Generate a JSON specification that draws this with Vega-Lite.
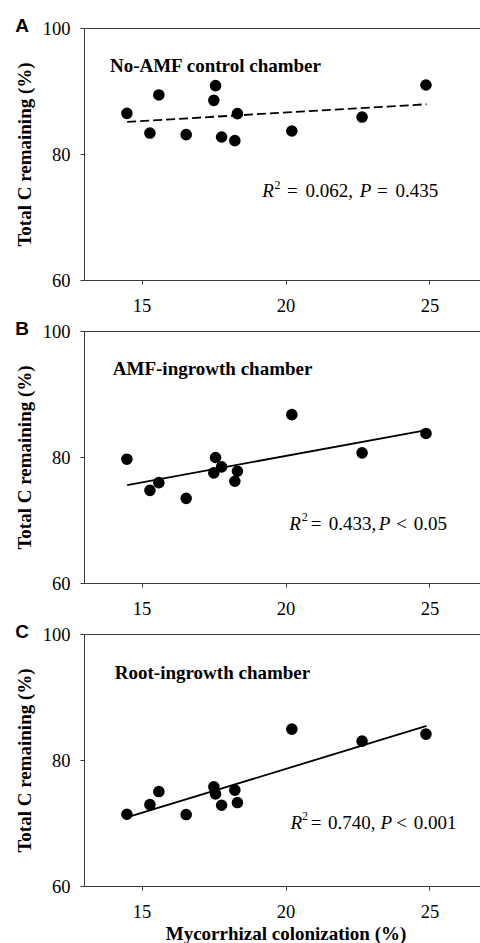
{
  "$schema": "https://vega.github.io/schema/vega-lite/v6.json",
  "padding": {"left": 14, "top": 16, "right": 0, "bottom": 0},
  "bounds": "flush",
  "spacing": 51,
  "datasets": {
    "points": [
      {"panel": "A", "col": 14.49, "tc": 86.45}, {"panel": "A", "col": 15.29, "tc": 83.33}, {"panel": "A", "col": 15.60, "tc": 89.37},
      {"panel": "A", "col": 16.55, "tc": 83.07}, {"panel": "A", "col": 17.51, "tc": 88.52}, {"panel": "A", "col": 17.57, "tc": 90.85},
      {"panel": "A", "col": 17.78, "tc": 82.70}, {"panel": "A", "col": 18.24, "tc": 82.12}, {"panel": "A", "col": 18.33, "tc": 86.40},
      {"panel": "A", "col": 20.22, "tc": 83.65}, {"panel": "A", "col": 22.66, "tc": 85.87}, {"panel": "A", "col": 24.88, "tc": 90.95},
      {"panel": "B", "col": 14.49, "tc": 79.65}, {"panel": "B", "col": 15.29, "tc": 74.71}, {"panel": "B", "col": 15.60, "tc": 75.94},
      {"panel": "B", "col": 16.55, "tc": 73.44}, {"panel": "B", "col": 17.51, "tc": 77.48}, {"panel": "B", "col": 17.57, "tc": 79.92},
      {"panel": "B", "col": 17.78, "tc": 78.43}, {"panel": "B", "col": 18.24, "tc": 76.15}, {"panel": "B", "col": 18.33, "tc": 77.74},
      {"panel": "B", "col": 20.22, "tc": 86.72}, {"panel": "B", "col": 22.66, "tc": 80.66}, {"panel": "B", "col": 24.88, "tc": 83.74},
      {"panel": "C", "col": 14.49, "tc": 71.39}, {"panel": "C", "col": 15.29, "tc": 72.93}, {"panel": "C", "col": 15.60, "tc": 74.99},
      {"panel": "C", "col": 16.55, "tc": 71.34}, {"panel": "C", "col": 17.51, "tc": 75.74}, {"panel": "C", "col": 17.57, "tc": 74.62},
      {"panel": "C", "col": 17.78, "tc": 72.82}, {"panel": "C", "col": 18.24, "tc": 75.21}, {"panel": "C", "col": 18.33, "tc": 73.25},
      {"panel": "C", "col": 20.22, "tc": 84.90}, {"panel": "C", "col": 22.66, "tc": 82.99}, {"panel": "C", "col": 24.88, "tc": 84.11}
    ],
    "fits": [
      {"panel": "A", "col": 14.5, "tc": 85.1}, {"panel": "A", "col": 24.9, "tc": 87.9},
      {"panel": "B", "col": 14.5, "tc": 75.55}, {"panel": "B", "col": 24.9, "tc": 84.27},
      {"panel": "C", "col": 14.6, "tc": 71.05}, {"panel": "C", "col": 24.9, "tc": 85.4}
    ]
  },
  "config": {
    "font": "Liberation Serif",
    "view": {"stroke": "#3a3a3a", "strokeWidth": 1},
    "style": {
      "guide-label": {"font": "Liberation Serif", "fontSize": 18.5, "fill": "#000"},
      "guide-title": {"font": "Liberation Serif", "fontSize": 19, "fontWeight": "bold", "fill": "#000"},
      "ann": {"font": "Liberation Serif", "fontSize": 19, "color": "#000", "align": "left", "baseline": "alphabetic"}
    },
    "axis": {
      "grid": false, "domainColor": "#3a3a3a", "tickColor": "#3a3a3a", "tickSize": 4,
      "labelFont": "Liberation Serif", "labelFontSize": 18.5, "labelColor": "#000",
      "titleFont": "Liberation Serif", "titleFontSize": 19, "titleFontWeight": "bold", "titleColor": "#000"
    },
    "axisX": {"labelPadding": 12, "titlePadding": 4},
    "axisY": {"labelPadding": 10, "titlePadding": 8},
    "title": {"font": "Liberation Sans", "fontSize": 19, "fontWeight": "bold", "anchor": "start", "frame": "bounds", "color": "#000", "offset": -17}
  },
  "vconcat": [
    {
      "title": "A",
      "width": 403, "height": 252,
      "layer": [
        {
          "data": {"name": "points"},
          "transform": [{"filter": "datum.panel === 'A'"}],
          "mark": {"type": "point", "filled": true, "color": "#000", "size": 135, "opacity": 1},
          "encoding": {
            "x": {"field": "col", "type": "quantitative", "scale": {"domain": [13, 27], "nice": false}, "axis": {"values": [15, 20, 25], "title": null, "labelFont": "Liberation Serif"}},
            "y": {"field": "tc", "type": "quantitative", "scale": {"domain": [60, 100], "nice": false, "zero": false}, "axis": {"values": [60, 80, 100], "title": "Total C remaining (%)", "labelFont": "Liberation Serif"}}
          }
        },
        {
          "data": {"name": "fits"},
          "transform": [{"filter": "datum.panel === 'A'"}],
          "mark": {"type": "line", "color": "#000", "strokeWidth": 1.8, "strokeDash": [9, 4]},
          "encoding": {"x": {"field": "col", "type": "quantitative"}, "y": {"field": "tc", "type": "quantitative"}}
        },
        {"data": {"values": [{}]}, "mark": {"type": "text", "style": "ann", "text": "No-AMF control chamber", "fontWeight": "bold"},
         "encoding": {"x": {"datum": 13.9, "type": "quantitative"}, "y": {"datum": 93, "type": "quantitative"}}},
        {"data": {"values": [{}]}, "mark": {"type": "text", "style": "ann", "text": "R", "fontStyle": "italic"},
         "encoding": {"x": {"datum": 19.188, "type": "quantitative"}, "y": {"datum": 73.1, "type": "quantitative"}}},
        {"data": {"values": [{}]}, "mark": {"type": "text", "style": "ann", "text": "2", "fontSize": 12},
         "encoding": {"x": {"datum": 19.618, "type": "quantitative"}, "y": {"datum": 74.5, "type": "quantitative"}}},
        {"data": {"values": [{}]}, "mark": {"type": "text", "style": "ann", "text": "="},
         "encoding": {"x": {"datum": 20.05, "type": "quantitative"}, "y": {"datum": 73.1, "type": "quantitative"}}},
        {"data": {"values": [{}]}, "mark": {"type": "text", "style": "ann", "text": "0.062,"},
         "encoding": {"x": {"datum": 20.694, "type": "quantitative"}, "y": {"datum": 73.1, "type": "quantitative"}}},
        {"data": {"values": [{}]}, "mark": {"type": "text", "style": "ann", "text": "P", "fontStyle": "italic"},
         "encoding": {"x": {"datum": 22.58, "type": "quantitative"}, "y": {"datum": 73.1, "type": "quantitative"}}},
        {"data": {"values": [{}]}, "mark": {"type": "text", "style": "ann", "text": "="},
         "encoding": {"x": {"datum": 23.175, "type": "quantitative"}, "y": {"datum": 73.1, "type": "quantitative"}}},
        {"data": {"values": [{}]}, "mark": {"type": "text", "style": "ann", "text": "0.435"},
         "encoding": {"x": {"datum": 23.819, "type": "quantitative"}, "y": {"datum": 73.1, "type": "quantitative"}}}
      ]
    },
    {
      "title": "B",
      "width": 403, "height": 252,
      "layer": [
        {
          "data": {"name": "points"},
          "transform": [{"filter": "datum.panel === 'B'"}],
          "mark": {"type": "point", "filled": true, "color": "#000", "size": 135, "opacity": 1},
          "encoding": {
            "x": {"field": "col", "type": "quantitative", "scale": {"domain": [13, 27], "nice": false}, "axis": {"values": [15, 20, 25], "title": null, "labelFont": "Liberation Serif"}},
            "y": {"field": "tc", "type": "quantitative", "scale": {"domain": [60, 100], "nice": false, "zero": false}, "axis": {"values": [60, 80, 100], "title": "Total C remaining (%)", "labelFont": "Liberation Serif"}}
          }
        },
        {
          "data": {"name": "fits"},
          "transform": [{"filter": "datum.panel === 'B'"}],
          "mark": {"type": "line", "color": "#000", "strokeWidth": 1.8},
          "encoding": {"x": {"field": "col", "type": "quantitative"}, "y": {"field": "tc", "type": "quantitative"}}
        },
        {"data": {"values": [{}]}, "mark": {"type": "text", "style": "ann", "text": "AMF-ingrowth chamber", "fontWeight": "bold"},
         "encoding": {"x": {"datum": 14.0, "type": "quantitative"}, "y": {"datum": 93, "type": "quantitative"}}},
        {"data": {"values": [{}]}, "mark": {"type": "text", "style": "ann", "text": "R", "fontStyle": "italic"},
         "encoding": {"x": {"datum": 20.132, "type": "quantitative"}, "y": {"datum": 68.41, "type": "quantitative"}}},
        {"data": {"values": [{}]}, "mark": {"type": "text", "style": "ann", "text": "2", "fontSize": 12},
         "encoding": {"x": {"datum": 20.566, "type": "quantitative"}, "y": {"datum": 69.81, "type": "quantitative"}}},
        {"data": {"values": [{}]}, "mark": {"type": "text", "style": "ann", "text": "="},
         "encoding": {"x": {"datum": 20.88, "type": "quantitative"}, "y": {"datum": 68.41, "type": "quantitative"}}},
        {"data": {"values": [{}]}, "mark": {"type": "text", "style": "ann", "text": "0.433,"},
         "encoding": {"x": {"datum": 21.503, "type": "quantitative"}, "y": {"datum": 68.41, "type": "quantitative"}}},
        {"data": {"values": [{}]}, "mark": {"type": "text", "style": "ann", "text": "P", "fontStyle": "italic"},
         "encoding": {"x": {"datum": 23.24, "type": "quantitative"}, "y": {"datum": 68.41, "type": "quantitative"}}},
        {"data": {"values": [{}]}, "mark": {"type": "text", "style": "ann", "text": "<"},
         "encoding": {"x": {"datum": 23.85, "type": "quantitative"}, "y": {"datum": 68.41, "type": "quantitative"}}},
        {"data": {"values": [{}]}, "mark": {"type": "text", "style": "ann", "text": "0.05"},
         "encoding": {"x": {"datum": 24.455, "type": "quantitative"}, "y": {"datum": 68.41, "type": "quantitative"}}}
      ]
    },
    {
      "title": "C",
      "width": 403, "height": 252,
      "layer": [
        {
          "data": {"name": "points"},
          "transform": [{"filter": "datum.panel === 'C'"}],
          "mark": {"type": "point", "filled": true, "color": "#000", "size": 135, "opacity": 1},
          "encoding": {
            "x": {"field": "col", "type": "quantitative", "scale": {"domain": [13, 27], "nice": false}, "axis": {"values": [15, 20, 25], "title": "Mycorrhizal colonization (%)", "labelFont": "Liberation Serif"}},
            "y": {"field": "tc", "type": "quantitative", "scale": {"domain": [60, 100], "nice": false, "zero": false}, "axis": {"values": [60, 80, 100], "title": "Total C remaining (%)", "labelFont": "Liberation Serif"}}
          }
        },
        {
          "data": {"name": "fits"},
          "transform": [{"filter": "datum.panel === 'C'"}],
          "mark": {"type": "line", "color": "#000", "strokeWidth": 1.8},
          "encoding": {"x": {"field": "col", "type": "quantitative"}, "y": {"field": "tc", "type": "quantitative"}}
        },
        {"data": {"values": [{}]}, "mark": {"type": "text", "style": "ann", "text": "Root-ingrowth chamber", "fontWeight": "bold"},
         "encoding": {"x": {"datum": 14.07, "type": "quantitative"}, "y": {"datum": 92.85, "type": "quantitative"}}},
        {"data": {"values": [{}]}, "mark": {"type": "text", "style": "ann", "text": "R", "fontStyle": "italic"},
         "encoding": {"x": {"datum": 20.174, "type": "quantitative"}, "y": {"datum": 69.05, "type": "quantitative"}}},
        {"data": {"values": [{}]}, "mark": {"type": "text", "style": "ann", "text": "2", "fontSize": 12},
         "encoding": {"x": {"datum": 20.576, "type": "quantitative"}, "y": {"datum": 70.45, "type": "quantitative"}}},
        {"data": {"values": [{}]}, "mark": {"type": "text", "style": "ann", "text": "="},
         "encoding": {"x": {"datum": 20.88, "type": "quantitative"}, "y": {"datum": 69.05, "type": "quantitative"}}},
        {"data": {"values": [{}]}, "mark": {"type": "text", "style": "ann", "text": "0.740,"},
         "encoding": {"x": {"datum": 21.479, "type": "quantitative"}, "y": {"datum": 69.05, "type": "quantitative"}}},
        {"data": {"values": [{}]}, "mark": {"type": "text", "style": "ann", "text": "P", "fontStyle": "italic"},
         "encoding": {"x": {"datum": 23.299, "type": "quantitative"}, "y": {"datum": 69.05, "type": "quantitative"}}},
        {"data": {"values": [{}]}, "mark": {"type": "text", "style": "ann", "text": "<"},
         "encoding": {"x": {"datum": 23.85, "type": "quantitative"}, "y": {"datum": 69.05, "type": "quantitative"}}},
        {"data": {"values": [{}]}, "mark": {"type": "text", "style": "ann", "text": "0.001"},
         "encoding": {"x": {"datum": 24.455, "type": "quantitative"}, "y": {"datum": 69.05, "type": "quantitative"}}}
      ]
    }
  ]
}
